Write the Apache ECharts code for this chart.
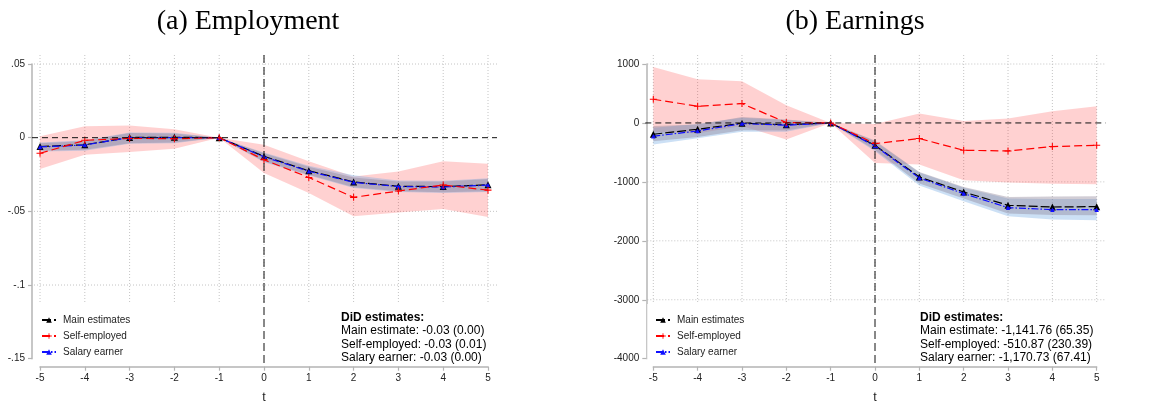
<!DOCTYPE html>
<html><head><meta charset="utf-8">
<script src="https://cdn.jsdelivr.net/npm/echarts@6/dist/echarts.min.js"></script>
<style>html,body{margin:0;padding:0;background:#fff}#c{width:1156px;height:402px}</style>
</head><body><div id="c"></div>
<script>
const periods = [-5,-4,-3,-2,-1,0,1,2,3,4,5];
const seriesNames = ['Main estimates','Self-employed','Salary earner'];
const titles = ['(a) Employment','(b) Earnings'];
const yTicksA = [-0.15,-0.1,-0.05,0,0.05];
const yLabelsA = ['-.15','-.1','-.05','0','.05'];
const yTicksB = [-4000,-3000,-2000,-1000,0,1000];
const yLabelsB = ['-4000','-3000','-2000','-1000','0','1000'];
const didHeader = 'DiD estimates:';
const didA = ['Main estimate: -0.03 (0.00)','Self-employed: -0.03 (0.01)','Salary earner: -0.03 (0.00)'];
const didB = ['Main estimate: -1,141.76 (65.35)','Self-employed: -510.87 (230.39)','Salary earner: -1,170.73 (67.41)'];

// (a) Employment
const empMain = [-0.0060,-0.0048,0.0002,0.0003,0,-0.0127,-0.0224,-0.0300,-0.0330,-0.0332,-0.0320];
const empSal  = [-0.0063,-0.0050,0.0001,0.0001,0,-0.0130,-0.0228,-0.0303,-0.0332,-0.0335,-0.0322];
const empSelf = [-0.0106,-0.0018,-0.0005,-0.0007,0,-0.0150,-0.0270,-0.0405,-0.0362,-0.0321,-0.0356];
const empSelfLo = [-0.0213,-0.0116,-0.0098,-0.0075,0,-0.0240,-0.0376,-0.0534,-0.0507,-0.0484,-0.0539];
const empSelfHi = [0.0010,0.0077,0.0083,0.0058,0,-0.0048,-0.0160,-0.0263,-0.0229,-0.0160,-0.0177];
const empMainLo = [-0.0088,-0.0082,-0.0037,-0.0033,0,-0.0161,-0.0251,-0.0337,-0.0364,-0.0371,-0.0364];
const empMainHi = [-0.0037,-0.0022,0.0031,0.0029,0,-0.0105,-0.0197,-0.0270,-0.0297,-0.0297,-0.0280];
const empSalLo = [-0.0094,-0.0088,-0.0042,-0.0038,0,-0.0166,-0.0257,-0.0342,-0.0369,-0.0376,-0.0369];
const empSalHi = [-0.0033,-0.0017,0.0035,0.0033,0,-0.0100,-0.0190,-0.0255,-0.0290,-0.0292,-0.0275];

// (b) Earnings
const earnMain = [-192,-107,-5,-30,0,-379,-917,-1171,-1397,-1426,-1420];
const earnSal  = [-226,-136,-11,-39,0,-390,-934,-1199,-1437,-1471,-1471];
const earnSelf = [402,283,329,6,0,-350,-265,-464,-475,-401,-379];
const earnSelfLo = [-150,-180,-50,-282,0,-680,-706,-973,-1012,-1030,-1041];
const earnSelfHi = [951,742,708,300,0,-20,160,34,75,199,283];
const earnMainLo = [-311,-238,-124,-130,0,-460,-1029,-1284,-1538,-1560,-1567];
const earnMainHi = [-51,-27,102,60,0,-300,-832,-1087,-1256,-1250,-1244];
const earnSalLo = [-367,-260,-150,-150,0,-480,-1060,-1330,-1584,-1640,-1652];
const earnSalHi = [-80,-20,90,50,0,-310,-840,-1100,-1280,-1290,-1290];

const SANS = 'Liberation Sans, Arial, sans-serif';
const SERIF = 'Liberation Serif, Times New Roman, serif';
const plusPath = 'path://M-0.6,-4h1.2v3.4h3.4v1.2h-3.4v3.4h-1.2v-3.4h-3.4v-1.2h3.4z';

function pairs(vals){ return periods.map((t,i)=>[t, vals[i]]); }

function band(gi, lo, hi, color, z){
  return {
    type:'custom', xAxisIndex:gi, yAxisIndex:gi, z:z, silent:true,
    data: periods.map((t,i)=>[t, lo[i], hi[i]]),
    encode:{x:0, y:[1,2]},
    renderItem: function(params, api){
      if (params.dataIndex !== 0) return null;
      const pts = [];
      for (let i=0;i<periods.length;i++) pts.push(api.coord([periods[i], hi[i]]));
      for (let i=periods.length-1;i>=0;i--) pts.push(api.coord([periods[i], lo[i]]));
      return {type:'polygon', shape:{points:pts}, style:{fill:color}};
    }
  };
}

function lines(gi, main, self, sal){
  return [
    {name:seriesNames[0], type:'line', xAxisIndex:gi, yAxisIndex:gi, z:5, data:pairs(main),
     symbol:'triangle', symbolSize:7, itemStyle:{color:'#000'},
     lineStyle:{color:'#000', width:1.2, type:[9,3]}},
    {name:seriesNames[2], type:'line', xAxisIndex:gi, yAxisIndex:gi, z:6, data:pairs(sal),
     symbol:'triangle', symbolSize:4.5, itemStyle:{color:'#1010ff'},
     lineStyle:{color:'#1010ff', width:1.2, type:[7,2,1.5,2]}},
    {name:seriesNames[1], type:'line', xAxisIndex:gi, yAxisIndex:gi, z:7, data:pairs(self),
     symbol:plusPath, symbolSize:7, itemStyle:{color:'#ff0000'},
     lineStyle:{color:'#ff0000', width:1.2, type:[8,4]}}
  ];
}

const axisCol = '#b4b4b4';
function xAx(gi){
  return {gridIndex:gi, type:'value', min:-5, max:5, interval:1, offset:8,
    axisLine:{show:true, onZero:false, lineStyle:{color:axisCol, width:1.5}},
    axisTick:{show:true, length:4, lineStyle:{color:axisCol, width:1.2}},
    axisLabel:{fontSize:10, color:'#222', fontFamily:SANS, margin:7},
    splitLine:{show:false},
    name:'t', nameLocation:'middle', nameGap:24,
    nameTextStyle:{fontSize:12.5, color:'#222', fontFamily:SANS}};
}
function yAx(gi, min, max, interval, labels, off){
  return {gridIndex:gi, type:'value', min:min, max:max, interval:interval, offset:off,
    axisLine:{show:true, onZero:false, lineStyle:{color:axisCol, width:1.5}},
    axisTick:{show:true, length:4, lineStyle:{color:axisCol, width:1.2}},
    axisLabel:{fontSize:10, color:'#222', fontFamily:SANS, margin:7,
      formatter:function(v, idx){ return labels[idx]; }},
    splitLine:{show:false}};
}

const RED_BAND = 'rgba(255,0,0,0.18)';
const SAL_BAND = 'rgba(100,160,225,0.33)';
const MAIN_BAND = 'rgba(140,130,150,0.40)';

const chart = echarts.init(document.getElementById('c'), null, {renderer:'canvas'});
const legendCommon = {data:seriesNames, orient:'vertical', itemWidth:14, itemHeight:7, itemGap:4,
  textStyle:{fontSize:10, color:'#222', fontFamily:SANS, lineHeight:12, padding:[0,0,0,2]}, selectedMode:false};

chart.setOption({
  animation:false,
  title:[
    {text:titles[0], left:243, top:3, textAlign:'center', textStyle:{fontFamily:SERIF, fontSize:28, fontWeight:'normal', color:'#000'}},
    {text:titles[1], left:850, top:3, textAlign:'center', textStyle:{fontFamily:SERIF, fontSize:28, fontWeight:'normal', color:'#000'}}
  ],
  grid:[
    {left:40, top:64, width:448, height:294.7, containLabel:false, outerBoundsMode:'none'},
    {left:653.3, top:64, width:443.4, height:294.7, containLabel:false, outerBoundsMode:'none'}
  ],
  xAxis:[xAx(0), xAx(1)],
  yAxis:[yAx(0,-0.15,0.05,0.05,yLabelsA,8), yAx(1,-4000,1000,1000,yLabelsB,7)],
  legend:[
    Object.assign({left:36, top:309}, legendCommon),
    Object.assign({left:650, top:309}, legendCommon)
  ],
  series:[
    band(0, empSelfLo, empSelfHi, RED_BAND, 2),
    band(0, empSalLo, empSalHi, SAL_BAND, 3),
    band(0, empMainLo, empMainHi, MAIN_BAND, 4),
    ...lines(0, empMain, empSelf, empSal),
    band(1, earnSelfLo, earnSelfHi, RED_BAND, 2),
    band(1, earnSalLo, earnSalHi, SAL_BAND, 3),
    band(1, earnMainLo, earnMainHi, MAIN_BAND, 4),
    ...lines(1, earnMain, earnSelf, earnSal)
  ]
});

// decorations (gridlines, reference lines, boxes) derived from the axis scales
const gfx = [];
function deco(gi, yTicks){
  const ymin = yTicks[0], ymax = yTicks[yTicks.length-1];
  const pL = chart.convertToPixel({gridIndex:gi}, [periods[0], 0]);
  const pR = chart.convertToPixel({gridIndex:gi}, [periods[periods.length-1], 0]);
  const pT = chart.convertToPixel({gridIndex:gi}, [0, ymax]);
  const pB = chart.convertToPixel({gridIndex:gi}, [0, ymin]);
  const x0 = pL[0]-8, x1 = pR[0]+9, yTop = pT[1]-9, yBot = pB[1]+8;
  const grid = {stroke:'#c4c4c4', lineWidth:1, lineDash:[1,2]};
  periods.forEach(t=>{
    const px = chart.convertToPixel({gridIndex:gi}, [t, 0])[0];
    gfx.push({type:'line', z:0, silent:true, shape:{x1:px, y1:yTop, x2:px, y2:yBot}, style:grid});
  });
  yTicks.forEach(v=>{
    if (v === 0) return;
    const py = chart.convertToPixel({gridIndex:gi}, [0, v])[1];
    gfx.push({type:'line', z:0, silent:true, shape:{x1:x0+2, y1:py, x2:x1, y2:py}, style:grid});
  });
  // white box behind legend / estimates text
  gfx.push({type:'rect', z:1, silent:true, shape:{x:x0+2, y:304, width:x1-x0-1, height:yBot-304-1}, style:{fill:'#fff'}});
  // y = 0 line
  gfx.push({type:'line', z:8, silent:true, shape:{x1:x0, y1:pL[1], x2:x1, y2:pL[1]}, style:{stroke:'#111', lineWidth:1, lineDash:[6,4]}});
  // x = 0 line
  gfx.push({type:'line', z:8, silent:true, shape:{x1:pT[0], y1:yTop, x2:pT[0], y2:yBot}, style:{stroke:'#111', lineWidth:1, lineDash:[8,4]}});
}
deco(0, yTicksA);
deco(1, yTicksB);
function didText(left, arr){
  return {type:'text', z:10, left:left, top:311, silent:true,
    style:{text:'{b|'+didHeader+'}\n'+arr.join('\n'), fontSize:12, fontFamily:SANS, lineHeight:13.4, fill:'#000',
      rich:{b:{fontWeight:'bold', fontSize:12, fontFamily:SANS, lineHeight:13.4, fill:'#000'}}}};
}
gfx.push(didText(341, didA));
gfx.push(didText(920, didB));
chart.setOption({graphic:gfx});
</script>
</body></html>
